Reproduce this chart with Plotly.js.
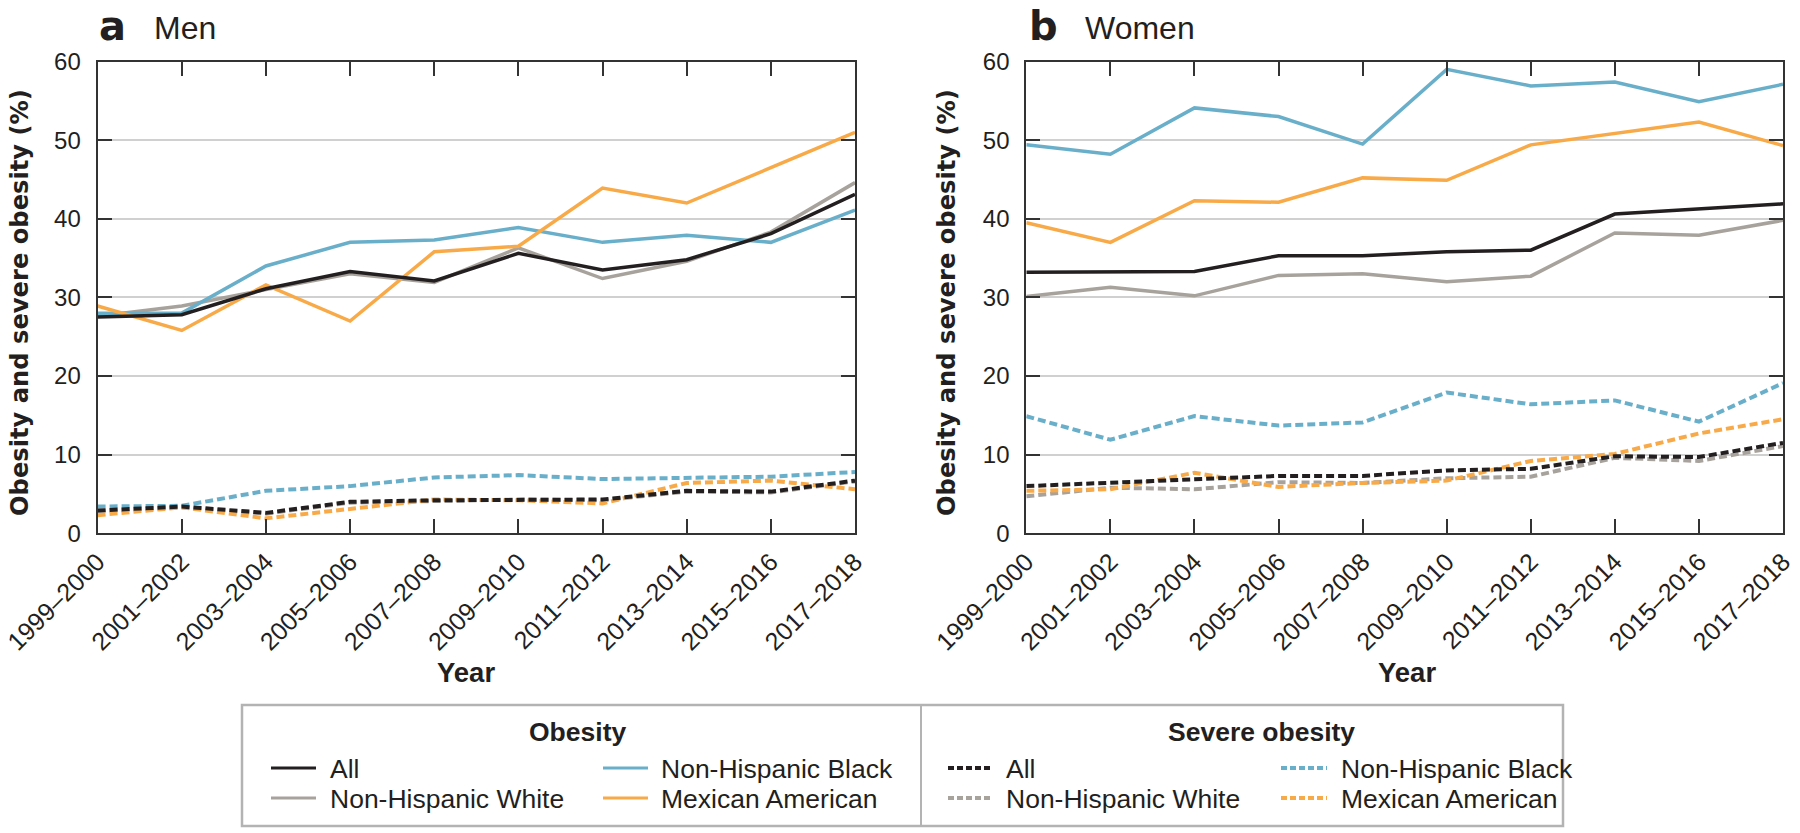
<!DOCTYPE html>
<html>
<head>
<meta charset="utf-8">
<script src="https://cdn.plot.ly/plotly-3.0.1.min.js"></script>
<style>html,body{margin:0;padding:0;background:#fff;}#chart{width:1800px;height:833px;}</style>
</head>
<body>
<div id="chart"></div>
<script>
// ---------- data ----------
const years = ["1999–2000","2001–2002","2003–2004","2005–2006","2007–2008","2009–2010","2011–2012","2013–2014","2015–2016","2017–2018"];
const groups = ["All","Non-Hispanic White","Non-Hispanic Black","Mexican American"];

const menObesityAll      = [27.5, 27.8, 31.1, 33.3, 32.1, 35.6, 33.5, 34.8, 38.1, 43.1];
const menObesityWhite    = [27.6, 28.9, 31.0, 33.0, 31.9, 36.3, 32.4, 34.6, 38.3, 44.6];
const menObesityBlack    = [28.0, 28.0, 34.0, 37.0, 37.3, 38.9, 37.0, 37.9, 37.0, 41.1];
const menObesityMexican  = [28.9, 25.8, 31.6, 27.0, 35.8, 36.5, 43.9, 42.0, 46.5, 51.0];

const menSevereAll       = [2.9, 3.4, 2.6, 4.0, 4.2, 4.3, 4.3, 5.4, 5.3, 6.7];
const menSevereWhite     = [2.8, 3.3, 2.5, 3.9, 4.1, 4.3, 4.2, 5.3, 5.2, 6.6];
const menSevereBlack     = [3.4, 3.5, 5.4, 6.0, 7.1, 7.4, 6.9, 7.1, 7.2, 7.8];
const menSevereMexican   = [2.3, 3.3, 1.9, 3.1, 4.3, 4.2, 3.8, 6.4, 6.7, 5.6];

const womenObesityAll     = [33.2, 33.2, 33.3, 35.3, 35.3, 35.8, 36.0, 40.6, 41.2, 41.9];
const womenObesityWhite   = [30.1, 31.3, 30.2, 32.8, 33.0, 32.0, 32.7, 38.2, 37.9, 39.8];
const womenObesityBlack   = [49.4, 48.2, 54.1, 53.0, 49.5, 59.0, 56.9, 57.4, 54.9, 57.1];
const womenObesityMexican = [39.5, 37.0, 42.3, 42.1, 45.2, 44.9, 49.4, 50.8, 52.3, 49.3];

const womenSevereAll      = [6.0, 6.4, 6.9, 7.3, 7.3, 8.0, 8.2, 9.8, 9.7, 11.5];
const womenSevereWhite    = [4.7, 5.8, 5.6, 6.5, 6.4, 7.0, 7.2, 9.6, 9.2, 11.1];
const womenSevereBlack    = [14.9, 11.9, 14.9, 13.7, 14.1, 17.9, 16.4, 16.9, 14.2, 19.1];
const womenSevereMexican  = [5.4, 5.6, 7.7, 5.9, 6.4, 6.7, 9.2, 10.1, 12.7, 14.5];

// ---------- styles ----------
const colors = {"All":"#231f20","Non-Hispanic White":"#a8a29c","Non-Hispanic Black":"#6aafca","Mexican American":"#f9aa48"};
const DASH = "8px,4px";
const W = 1800, H = 833;
const px = x => x / W;
const py = y => 1 - y / H;

const SANS = "'Liberation Sans', Arial, sans-serif";
const BOLDW = "'DejaVu Sans', Verdana, sans-serif";
const TXT = "#231f20";

const panels = [
  {xa:"x", ya:"y", obesity:{"All":menObesityAll,"Non-Hispanic White":menObesityWhite,"Non-Hispanic Black":menObesityBlack,"Mexican American":menObesityMexican},
   severe:{"All":menSevereAll,"Non-Hispanic White":menSevereWhite,"Non-Hispanic Black":menSevereBlack,"Mexican American":menSevereMexican}},
  {xa:"x2", ya:"y2", obesity:{"All":womenObesityAll,"Non-Hispanic White":womenObesityWhite,"Non-Hispanic Black":womenObesityBlack,"Mexican American":womenObesityMexican},
   severe:{"All":womenSevereAll,"Non-Hispanic White":womenSevereWhite,"Non-Hispanic Black":womenSevereBlack,"Mexican American":womenSevereMexican}}
];
const drawOrder = ["Non-Hispanic White","Non-Hispanic Black","Mexican American","All"];

const traces = [];
panels.forEach(p => {
  drawOrder.forEach(g => {
    traces.push({type:"scatter", mode:"lines", x:years, y:p.severe[g], xaxis:p.xa, yaxis:p.ya,
      name:"Severe obesity – " + g, showlegend:false, hoverinfo:"x+y+name",
      line:{color:colors[g], width:4, dash:DASH}});
  });
  drawOrder.forEach(g => {
    traces.push({type:"scatter", mode:"lines", x:years, y:p.obesity[g], xaxis:p.xa, yaxis:p.ya,
      name:"Obesity – " + g, showlegend:false, hoverinfo:"x+y+name",
      line:{color:colors[g], width:3.5}});
  });
});

function xAxis(domain){
  return {domain:domain, type:"category", categoryorder:"array", categoryarray:years, range:[0,9],
    showline:true, linecolor:"#333", linewidth:2, mirror:"ticks",
    ticks:"inside", ticklen:14, tickwidth:2, tickcolor:"#333",
    tickangle:-45, showgrid:false, zeroline:false, ticklabelstandoff:2,
    tickfont:{family:SANS, size:25, color:TXT}, automargin:false};
}
function yAxis(domain){
  return {domain:domain, range:[0,60], dtick:10, tick0:0,
    showline:true, linecolor:"#333", linewidth:2, mirror:"ticks",
    ticks:"inside", ticklen:14, tickwidth:2, tickcolor:"#333",
    showgrid:true, gridcolor:"#d0d0d0", gridwidth:2, zeroline:false, ticklabelstandoff:10,
    tickfont:{family:SANS, size:24, color:TXT}, automargin:false};
}

const yDom = [(H-533.3)/H, (H-61.5)/H];
const annotations = [];
const shapes = [];
function ann(text, x, y, opts){
  annotations.push(Object.assign({text:text, x:px(x), y:py(y), xref:"paper", yref:"paper", showarrow:false,
    xanchor:"left", yanchor:"middle"}, opts));
}
// panel titles
ann("<b>a</b>", 97, 26, {font:{family:BOLDW, size:40, color:TXT}});
ann("Men", 152, 28, {font:{family:SANS, size:32, color:TXT}});
ann("<b>b</b>", 1027, 26, {font:{family:BOLDW, size:40, color:TXT}});
ann("Women", 1083, 28, {font:{family:SANS, size:32, color:TXT}});
// axis titles
const ytitle = "<b>Obesity and severe obesity (%)</b>";
ann(ytitle, 20, 303, {xanchor:"center", textangle:-90, font:{family:BOLDW, size:24.2, color:TXT}});
ann(ytitle, 947, 303, {xanchor:"center", textangle:-90, font:{family:BOLDW, size:24.2, color:TXT}});
ann("<b>Year</b>", 465.5, 672.5, {xanchor:"center", font:{family:SANS, size:27.5, color:TXT}});
ann("<b>Year</b>", 1407, 672.5, {xanchor:"center", font:{family:SANS, size:27.5, color:TXT}});

// legend box
shapes.push({type:"rect", xref:"paper", yref:"paper", x0:px(242), x1:px(1563), y0:py(826), y1:py(705),
  line:{color:"#b3b3b3", width:2.5}, fillcolor:"rgba(0,0,0,0)"});
shapes.push({type:"line", xref:"paper", yref:"paper", x0:px(921), x1:px(921), y0:py(826), y1:py(705),
  line:{color:"#b3b3b3", width:2}});
ann("<b>Obesity</b>", 577.5, 732, {xanchor:"center", font:{family:SANS, size:26.5, color:TXT}});
ann("<b>Severe obesity</b>", 1261, 732, {xanchor:"center", font:{family:SANS, size:26.5, color:TXT}});

const legendLayout = [
  {g:"All", col:0, row:0}, {g:"Non-Hispanic White", col:0, row:1},
  {g:"Non-Hispanic Black", col:1, row:0}, {g:"Mexican American", col:1, row:1}
];
const legendCols = [[271,316,328],[603,648,659]];
const sevCols = [[948,992,1004],[1281,1327,1339]];
const rowsY = [768, 798];
legendLayout.forEach(it => {
  [[legendCols, false],[sevCols, true]].forEach(([cols, dashed]) => {
    const c = cols[it.col];
    const yy = rowsY[it.row];
    shapes.push({type:"line", xref:"paper", yref:"paper", x0:px(c[0]), x1:px(c[1]), y0:py(yy), y1:py(yy),
      line:{color:colors[it.g], width:dashed?4:3.2, dash:dashed?"6px,3px":"solid"}});
    ann(it.g, c[2], yy + 1, {font:{family:SANS, size:26.5, color:TXT}});
  });
});

const layout = {
  width:W, height:H, margin:{l:0, r:0, t:0, b:0}, paper_bgcolor:"#fff", plot_bgcolor:"#fff",
  showlegend:false,
  xaxis: xAxis([px(97.6), px(855)]),
  yaxis: yAxis(yDom),
  xaxis2: Object.assign(xAxis([px(1026.3), px(1783)]), {anchor:"y2"}),
  yaxis2: Object.assign(yAxis(yDom), {anchor:"x2"}),
  annotations: annotations,
  shapes: shapes,
  font:{family:SANS, color:TXT}
};
layout.xaxis.anchor = "y";
layout.yaxis.anchor = "x";

Plotly.newPlot("chart", traces, layout, {staticPlot:true, displayModeBar:false});
</script>
</body>
</html>
